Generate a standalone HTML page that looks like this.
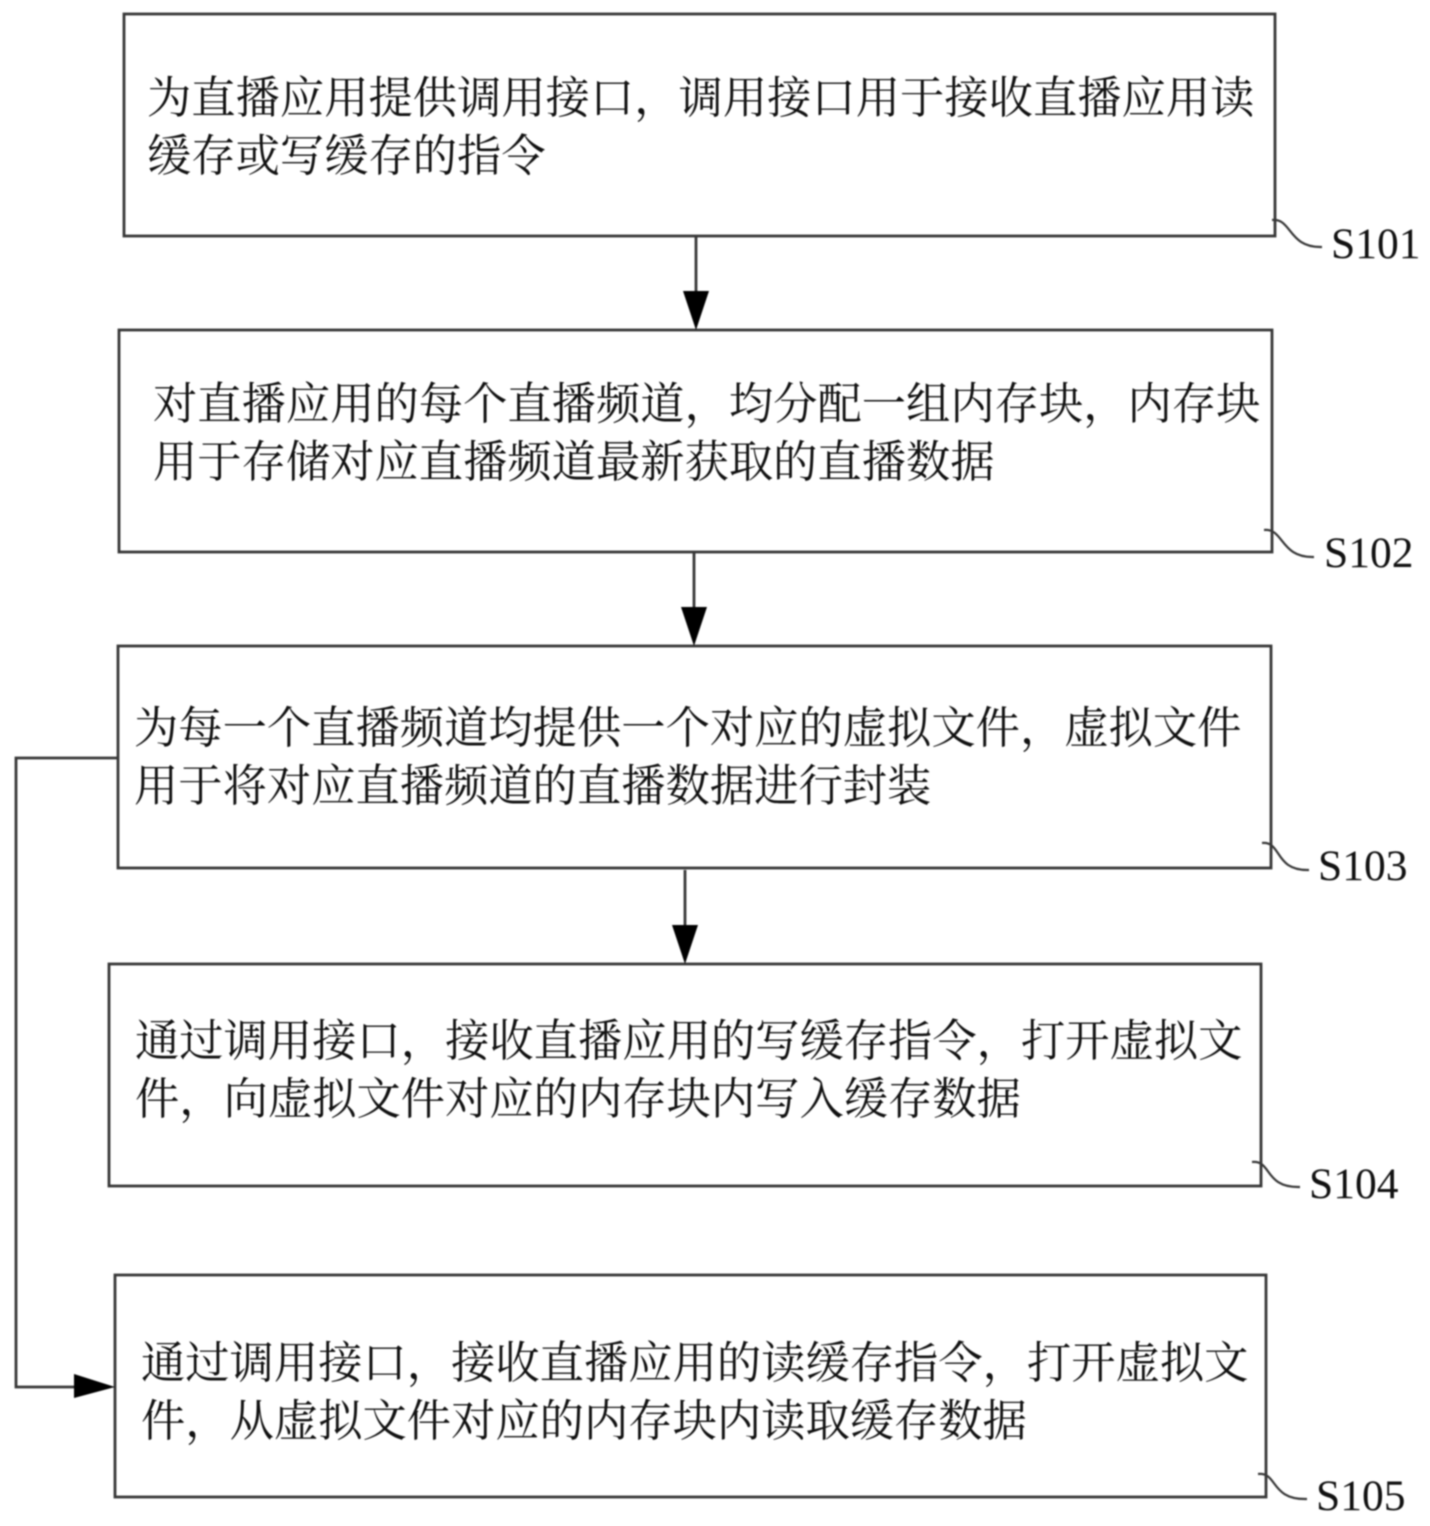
<!DOCTYPE html>
<html><head><meta charset="utf-8">
<style>
html,body{margin:0;padding:0;background:#fff;}
#c{position:relative;width:1430px;height:1526px;overflow:hidden;background:#fff;filter:blur(0.9px);}
svg{position:absolute;left:0;top:0;}
.t{position:absolute;font-family:"Noto Serif CJK SC","Liberation Serif",serif;font-size:44.3px;line-height:58px;color:#111;white-space:nowrap;}
.l{position:absolute;font-family:"Liberation Serif",serif;font-size:43.5px;line-height:48px;color:#111;white-space:nowrap;}
</style></head><body>
<div id="c">
<svg width="1430" height="1526" viewBox="0 0 1430 1526" fill="none" stroke="#383838" stroke-width="2.8">
<rect x="124" y="14" width="1151" height="222"/>
<rect x="119" y="330" width="1153" height="222"/>
<rect x="118" y="646" width="1153" height="222"/>
<rect x="109" y="964" width="1152" height="222"/>
<rect x="115" y="1275" width="1151" height="222"/>
<path d="M696 236V294M694 552V610M685 870V928"/>
<path d="M118 758H16V1387H80"/>
<g fill="#000" stroke="none">
<polygon points="683,291 709,291 696,330"/>
<polygon points="681,607 707,607 694,646"/>
<polygon points="672,925 698,925 685,964"/>
<polygon points="74,1374 74,1398 115,1387"/>
</g>
<g stroke-width="2.2">
<path d="M1272 220C1292 218 1288 248 1322 247"/>
<path d="M1264 530C1284 528 1280 558 1314 557"/>
<path d="M1262 843C1282 841 1274 871 1309 870"/>
<path d="M1252 1162C1272 1160 1264 1188 1300 1187"/>
<path d="M1258 1474C1278 1472 1270 1500 1307 1499"/>
</g>
</svg>
<div class="t" style="left:147px;top:65px">为直播应用提供调用接口，调用接口用于接收直播应用读<br>缓存或写缓存的指令</div>
<div class="t" style="left:153px;top:371px">对直播应用的每个直播频道，均分配一组内存块，内存块<br>用于存储对应直播频道最新获取的直播数据</div>
<div class="t" style="left:134px;top:695px">为每一个直播频道均提供一个对应的虚拟文件，虚拟文件<br>用于将对应直播频道的直播数据进行封装</div>
<div class="t" style="left:135px;top:1008px">通过调用接口，接收直播应用的写缓存指令，打开虚拟文<br>件，向虚拟文件对应的内存块内写入缓存数据</div>
<div class="t" style="left:141px;top:1330px">通过调用接口，接收直播应用的读缓存指令，打开虚拟文<br>件，从虚拟文件对应的内存块内读取缓存数据</div>
<div class="l" style="left:1331px;top:220px">S101</div>
<div class="l" style="left:1324px;top:529px">S102</div>
<div class="l" style="left:1318px;top:842px">S103</div>
<div class="l" style="left:1309px;top:1160px">S104</div>
<div class="l" style="left:1316px;top:1472px">S105</div>
</div>
</body></html>
